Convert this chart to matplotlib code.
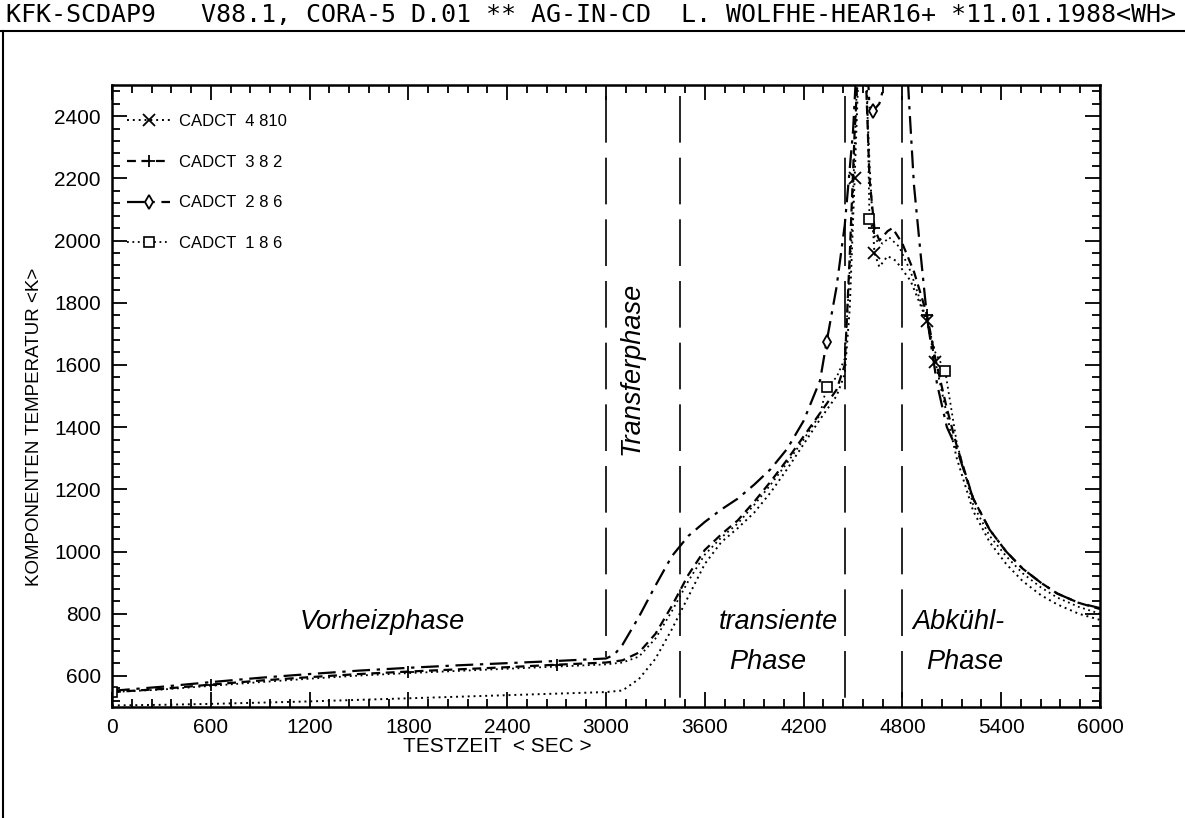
import matplotlib
matplotlib.use("Agg")
import matplotlib.pyplot as plt
from matplotlib.lines import Line2D
from matplotlib.ticker import MultipleLocator

SANS = ['Liberation Sans', 'DejaVu Sans']

# CADCT 4 810 (dotted, x markers)
t_4810 = [0, 300, 600, 900, 1200, 1500, 1800, 2100, 2400, 2700, 3000, 3100, 3200, 3300, 3400,
          3500, 3600, 3700, 3800, 3900, 4000, 4100, 4200, 4300, 4400, 4450, 4480, 4510, 4540,
          4570, 4600, 4630, 4660, 4710, 4760, 4850, 4950, 5000, 5070, 5130, 5230, 5330, 5430,
          5530, 5640, 5740, 5870, 6000]
T_4810 = [505, 507, 510, 514, 518, 523, 528, 533, 538, 543, 548, 553, 590, 655, 750,
          855, 960, 1030, 1075, 1125, 1190, 1265, 1345, 1425, 1500, 1570, 1780, 2200, 2650,
          2650, 2250, 1960, 1915, 1950, 1935, 1870, 1740, 1610, 1440, 1300, 1130, 1030, 960,
          905, 860, 830, 800, 780]
mk_4810 = [4510, 4630, 4950, 5000]

# CADCT 3 8 2 (dashed, + markers)
t_382 = [0, 300, 600, 900, 1200, 1500, 1800, 2100, 2400, 2700, 3000, 3100, 3200, 3300, 3400,
         3500, 3600, 3700, 3800, 3900, 4000, 4100, 4200, 4300, 4400, 4450, 4480, 4510, 4540,
         4570, 4600, 4630, 4660, 4710, 4740, 4800, 4870, 4950, 5000, 5070, 5130, 5230, 5330,
         5430, 5530, 5640, 5740, 5870, 6000]
T_382 = [548, 558, 572, 585, 596, 606, 614, 621, 628, 636, 643, 650, 675, 735, 825,
         925, 1005, 1055, 1100, 1160, 1225, 1295, 1370, 1445, 1520, 1600, 1950, 2350, 2650,
         2650, 2200, 2040, 2000, 2030, 2040, 1990, 1900, 1760, 1620, 1460, 1340, 1170, 1070,
         1000, 945, 900, 865, 835, 815]
mk_382 = [600, 1800, 2700, 4630, 4950]

# CADCT 2 8 6 (dash-dot, diamond markers)
t_286 = [0, 300, 600, 900, 1200, 1500, 1800, 2100, 2400, 2700, 3000, 3050, 3100, 3200, 3300,
         3400, 3500, 3600, 3700, 3800, 3900, 4000, 4100, 4200, 4300, 4340, 4400, 4450, 4500,
         4530, 4580, 4600, 4620, 4660, 4700, 4750, 4820, 4840, 4870, 4910, 4950, 5010, 5070,
         5130, 5230, 5330, 5430, 5530, 5640, 5740, 5870, 6000]
T_286 = [552, 565, 580, 594, 606, 617, 626, 634, 641, 648, 656, 668, 700, 790, 890,
         985, 1050, 1095, 1135, 1170, 1215, 1265, 1330, 1420, 1550, 1675, 1850, 2050, 2350,
         2650, 2650, 2430, 2415, 2440, 2520, 2650, 2650, 2450, 2180, 1960, 1750, 1540, 1400,
         1330, 1170, 1070, 1000, 945, 900, 865, 835, 818]
mk_286 = [4340, 4620]

# CADCT 1 8 6 (dotted, square markers)
t_186 = [0, 300, 600, 900, 1200, 1500, 1800, 2100, 2400, 2700, 3000, 3100, 3200, 3300, 3400,
         3500, 3600, 3700, 3800, 3900, 4000, 4100, 4200, 4300, 4340, 4400, 4450, 4490, 4520,
         4550, 4580, 4600, 4640, 4680, 4720, 4780, 4850, 4950, 5000, 5060, 5130, 5230, 5330,
         5430, 5530, 5640, 5740, 5870, 6000]
T_186 = [548, 556, 568, 580, 591, 601, 609, 616, 623, 630, 637, 643, 662, 720, 808,
         905, 990, 1045, 1090, 1150, 1215, 1285, 1360, 1440, 1530, 1560, 1620, 2000, 2450,
         2650, 2650, 2070, 2000, 1990, 2010, 1980, 1900, 1740, 1640, 1580, 1350, 1150, 1050,
         985, 930, 885, 852, 822, 800]
mk_186 = [0, 4340, 4600, 5060]

phase_lines = [3000, 3450, 4450, 4800]
phase_line_bottoms = [660, 500, 500, 500]

title = "KFK-SCDAP9   V88.1, CORA-5 D.01 ** AG-IN-CD  L. WOLFHE-HEAR16+ *11.01.1988<WH>"


def mark_idx(times, marks):
    return [times.index(m) for m in marks]


fig = plt.figure(figsize=(11.85, 8.18), dpi=100)
ax = fig.add_axes([112/1185, 1 - 707/818, (1100 - 112)/1185, (707 - 85)/818])

ax.plot(t_4810, T_4810, color='black', lw=1.4, ls=(0, (1, 2)), marker='x', ms=8, mew=1.3,
        markevery=mark_idx(t_4810, mk_4810), label='CADCT  4 810')
ax.plot(t_382, T_382, color='black', lw=1.6, ls=(0, (4, 2.5)), marker='+', ms=8, mew=1.3,
        markevery=mark_idx(t_382, mk_382), label='CADCT  3 8 2')
ax.plot(t_286, T_286, color='black', lw=1.6, ls=(0, (8, 3, 1.5, 3)), marker='d', ms=7,
        mfc='white', mew=1.3, markevery=mark_idx(t_286, mk_286), label='CADCT  2 8 6')
ax.plot(t_186, T_186, color='black', lw=1.3, ls=(0, (1, 2)), marker='s', ms=7, mfc='white',
        mew=1.2, markevery=mark_idx(t_186, mk_186), label='CADCT  1 8 6')

# phase boundaries
for xv, yb in zip(phase_lines, phase_line_bottoms):
    ax.plot([xv, xv], [2465, yb], color='black', lw=1.2, ls=(0, (28, 9)))

ax.set_xlim(0, 6000)
ax.set_ylim(500, 2500)
ax.xaxis.set_major_locator(MultipleLocator(600))
ax.xaxis.set_minor_locator(MultipleLocator(120))
ax.yaxis.set_major_locator(MultipleLocator(200))
ax.yaxis.set_minor_locator(MultipleLocator(40))
ax.tick_params(which='both', direction='in', top=True, right=True, width=1.3)
ax.tick_params(which='major', length=11, labelsize=15, pad=8)
ax.tick_params(which='minor', length=6)
for lab in ax.get_xticklabels() + ax.get_yticklabels():
    lab.set_family(SANS)
for sp in ax.spines.values():
    sp.set_linewidth(1.8)

fig.text(35/1185, 1 - 427/818, 'KOMPONENTEN TEMPERATUR <K>', family=SANS, fontsize=13.5,
         rotation=90, ha='center', va='center')
fig.text(497/1185, 1 - 747/818, 'TESTZEIT  < SEC >', family=SANS, fontsize=15,
         ha='center', va='center')

leg = ax.legend(loc='upper left', bbox_to_anchor=(0.0, 0.978), frameon=False,
                handlelength=2.6, numpoints=1, labelspacing=1.55, handletextpad=0.5,
                prop={'family': SANS, 'size': 12})

txt = dict(style='italic', fontsize=19.5, family=SANS, ha='center', va='center')
ax.text(1640, 773, 'Vorheizphase', **txt)
ax.text(3158, 1590, 'Transferphase', rotation=90, **txt)
ax.text(4045, 773, 'transiente', **txt)
ax.text(3984, 645, 'Phase', **txt)
ax.text(5138, 773, 'Abkühl-', **txt)
ax.text(5180, 645, 'Phase', **txt)

fig.text(6/1185, 1 - 15/818, title, family='DejaVu Sans Mono', fontsize=18,
         ha='left', va='center')
fig.add_artist(Line2D([0, 1], [1 - 31/818, 1 - 31/818], transform=fig.transFigure,
                      color='black', lw=1.5))
fig.add_artist(Line2D([3/1185, 3/1185], [0, 1 - 31/818], transform=fig.transFigure,
                      color='black', lw=1.5))

fig.savefig('out.png', dpi=100)
